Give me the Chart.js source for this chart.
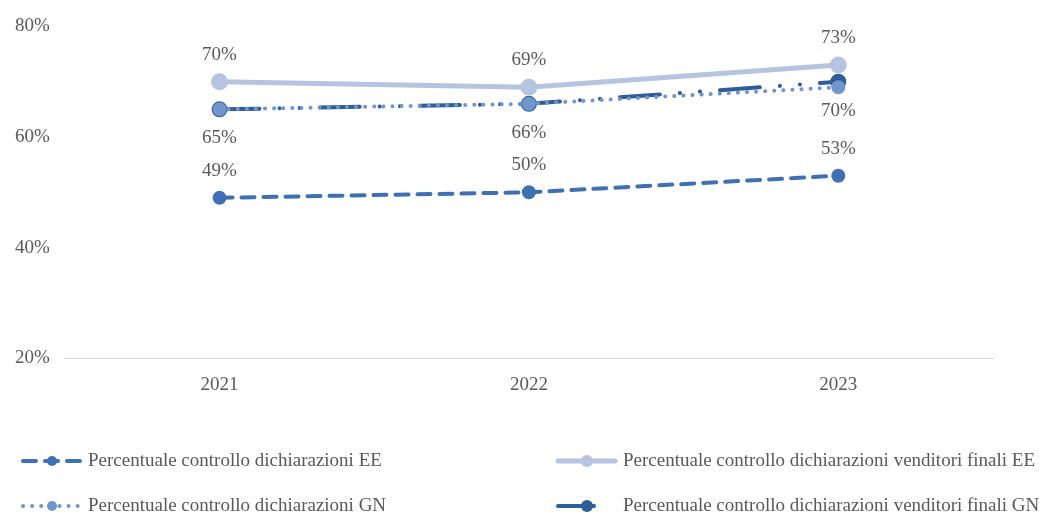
<!DOCTYPE html>
<html>
<head>
<meta charset="utf-8">
<script src="https://cdn.jsdelivr.net/npm/chart.js@4/dist/chart.umd.min.js"></script>
<style>
  html, body { margin: 0; padding: 0; background: #fff; }
  #wrap { width: 1062px; height: 516px; position: relative; }
</style>
</head>
<body>
<div id="wrap"><canvas id="lineChart" width="1062" height="516"></canvas></div>
<script>
const years = ['2021', '2022', '2023'];
const ctrlEE = [49, 50, 53];
const ctrlVenditoriEE = [70, 69, 73];
const ctrlGN = [65, 66, 69];
const ctrlVenditoriGN = [65, 66, 70];
const yTicks = [20, 40, 60, 80];

const textColor = '#595959';
const fontFamily = "'Liberation Serif', 'DejaVu Serif', serif";
const fontSize = 19;

// value labels, drawn above or below each point
const valueLabels = {
  id: 'valueLabels',
  afterDatasetsDraw(chart) {
    const c = chart.ctx;
    c.save();
    c.font = fontSize + 'px ' + fontFamily;
    c.fillStyle = textColor;
    c.textAlign = 'center';
    c.textBaseline = 'middle';
    chart.data.datasets.forEach((ds, i) => {
      if (!ds.labelPos) return;
      const meta = chart.getDatasetMeta(i);
      meta.data.forEach((pt, j) => {
        const dy = ds.labelPos === 'above' ? -27 : 29;
        c.fillText(ds.data[j] + '%', pt.x, pt.y + dy);
      });
    });
    c.restore();
  }
};

// two-column legend under the axis
const gridLegend = {
  id: 'gridLegend',
  afterDraw(chart) {
    const c = chart.ctx;
    const slots = [[20, 461], [20, 506], [555, 461], [555, 506]];
    const order = [0, 2, 1, 3];
    c.save();
    order.forEach((dsIndex, k) => {
      const ds = chart.data.datasets[dsIndex];
      const [x, y] = slots[k];
      c.strokeStyle = ds.borderColor;
      c.lineWidth = ds.borderWidth;
      c.lineCap = 'round';
      c.setLineDash(ds.legendDash || ds.borderDash || []);
      c.beginPath();
      c.moveTo(x + 3, y);
      c.lineTo(x + 60, y);
      c.stroke();
      c.setLineDash([]);
      c.fillStyle = ds.pointBackgroundColor;
      c.beginPath();
      c.arc(x + 32, y, ds.pointRadius, 0, Math.PI * 2);
      c.fill();
      c.fillStyle = textColor;
      c.font = fontSize + 'px ' + fontFamily;
      c.textAlign = 'left';
      c.textBaseline = 'middle';
      c.fillText(ds.label, x + 68, y);
    });
    c.restore();
  }
};

const ctx = document.getElementById('lineChart');
const lineChart = new Chart(ctx, {
  type: 'line',
  data: {
    labels: years,
    datasets: [{
      label: 'Percentuale controllo dichiarazioni EE',
      data: ctrlEE,
      borderColor: '#3f70b4',
      pointBackgroundColor: '#3f70b4',
      borderWidth: 4,
      borderDash: [13, 9],
      borderCapStyle: 'round',
      pointRadius: 5,
      legendDash: [13, 9],
      labelPos: 'above'
    }, {
      label: 'Percentuale controllo dichiarazioni venditori finali EE',
      data: ctrlVenditoriEE,
      borderColor: '#b4c4e1',
      pointBackgroundColor: '#b4c4e1',
      borderWidth: 5,
      pointRadius: 6,
      labelPos: 'above'
    }, {
      label: 'Percentuale controllo dichiarazioni GN',
      data: ctrlGN,
      borderColor: '#7195cd',
      pointBackgroundColor: '#7195cd',
      borderWidth: 4,
      borderDash: [0.1, 9],
      borderCapStyle: 'round',
      pointRadius: 5,
      legendDash: [0.1, 9]
    }, {
      label: 'Percentuale controllo dichiarazioni venditori finali GN',
      data: ctrlVenditoriGN,
      borderColor: '#2f5d98',
      pointBackgroundColor: '#2f5d98',
      borderWidth: 4,
      borderDash: [40, 20, 0.1, 20, 0.1, 20],
      borderCapStyle: 'round',
      pointRadius: 6,
      legendDash: [36, 40],
      labelPos: 'below'
    }]
  },
  options: {
    responsive: false,
    animation: false,
    layout: { padding: { top: 20, right: 69, bottom: 105, left: 0 } },
    plugins: {
      legend: { display: false },
      tooltip: { enabled: false }
    },
    elements: { line: { tension: 0 }, point: { borderWidth: 0 } },
    scales: {
      x: {
        offset: true,
        grid: { display: false, drawTicks: false },
        border: { display: true, color: '#d9d9d9', width: 1 },
        ticks: { color: textColor, font: { family: fontFamily, size: fontSize }, padding: 15 }
      },
      y: {
        min: 20,
        max: 80,
        afterBuildTicks(axis) { axis.ticks = yTicks.map(v => ({ value: v })); },
        grid: { display: false, drawTicks: false },
        border: { display: false },
        ticks: {
          color: textColor,
          font: { family: fontFamily, size: fontSize },
          padding: 15,
          callback: v => v + '%'
        }
      }
    }
  },
  plugins: [valueLabels, gridLegend]
});
</script>
</body>
</html>
